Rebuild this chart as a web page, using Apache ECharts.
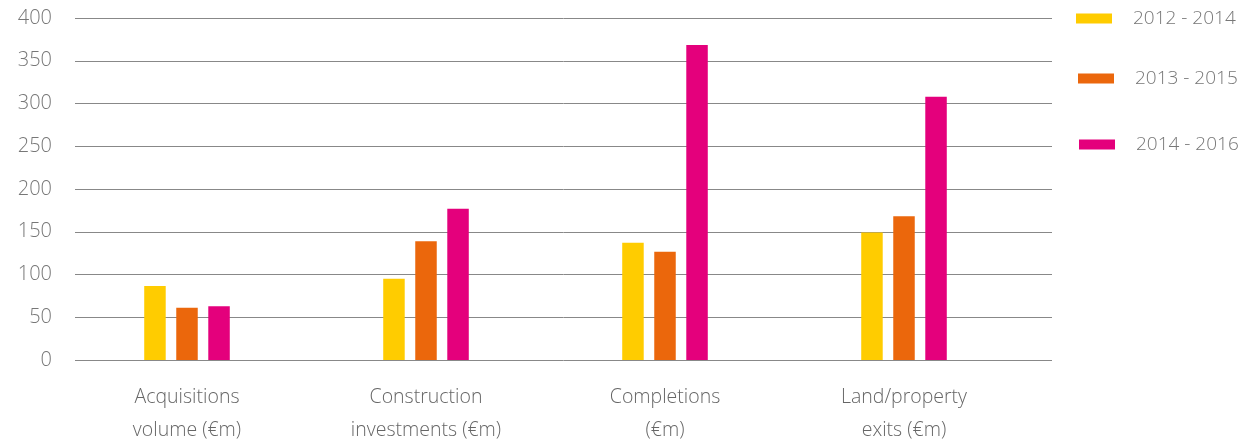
<!DOCTYPE html>
<html>
<head>
<meta charset="utf-8">
<script src="https://cdn.jsdelivr.net/npm/echarts@6/dist/echarts.min.js"></script>
<style>html,body{margin:0;padding:0;background:#fff;}#c{width:1242px;height:443px;}</style>
</head>
<body>
<div id="c"></div>
<script>
const categories = ['Acquisitions\nvolume (€m)', 'Construction\ninvestments (€m)', 'Completions\n(€m)', 'Land/property\nexits (€m)'];
const seriesNames = ['2012 - 2014', '2013 - 2015', '2014 - 2016'];
const s2012_2014 = [86.5, 95, 137, 149];
const s2013_2015 = [61, 139, 126.5, 168];
const s2014_2016 = [63, 177, 368.5, 308];
const yTicks = [0, 50, 100, 150, 200, 250, 300, 350, 400];
const colors = ['#FFCC00', '#EB670C', '#E4007C'];

const chart = echarts.init(document.getElementById('c'), null, {renderer: 'canvas'});
const font = '"Open Sans", Lato, sans-serif';
const legendPos = [{left: 1076, top: 9}, {left: 1078, top: 69}, {left: 1079, top: 135}];
chart.setOption({
  animation: false,
  backgroundColor: '#fff',
  grid: [
    {left: 75, right: 190, top: 18, bottom: 83, outerBoundsMode: 'none', containLabel: false},
    {left: 67.5, width: 956, top: 18, bottom: 83, outerBoundsMode: 'none', containLabel: false}
  ],
  legend: seriesNames.map((n, i) => ({
    data: [n], left: legendPos[i].left, top: legendPos[i].top, padding: 0,
    itemWidth: 36, itemHeight: 10, icon: 'rect',
    textStyle: {fontFamily: font, fontSize: 19, fontWeight: 300, color: '#777', padding: [0, 0, 0, 16]},
    selectedMode: false
  })),
  xAxis: [
    {gridIndex: 0, type: 'category', data: categories, show: false},
    {gridIndex: 1, type: 'category', data: categories,
     axisLine: {show: false}, axisTick: {show: false},
     axisLabel: {fontFamily: font, fontSize: 19.5, fontWeight: 300, color: '#666', lineHeight: 33, margin: 21}}
  ],
  yAxis: [
    {gridIndex: 0, type: 'value', min: yTicks[0], max: yTicks[yTicks.length - 1], interval: 50,
     axisLine: {show: false}, axisTick: {show: false},
     axisLabel: {fontFamily: font, fontSize: 20, fontWeight: 300, color: '#777', margin: 23},
     splitLine: {lineStyle: {color: '#888', width: 1}}},
    {gridIndex: 1, type: 'value', min: 0, max: 400, show: false, splitLine: {show: false}}
  ],
  series: [s2012_2014, s2013_2015, s2014_2016].map((d, i) => ({
    name: seriesNames[i], type: 'bar', xAxisIndex: 1, yAxisIndex: 1,
    data: d, barWidth: 21.5, barGap: '49%',
    itemStyle: {color: colors[i]}
  }))
});
</script>
</body>
</html>
